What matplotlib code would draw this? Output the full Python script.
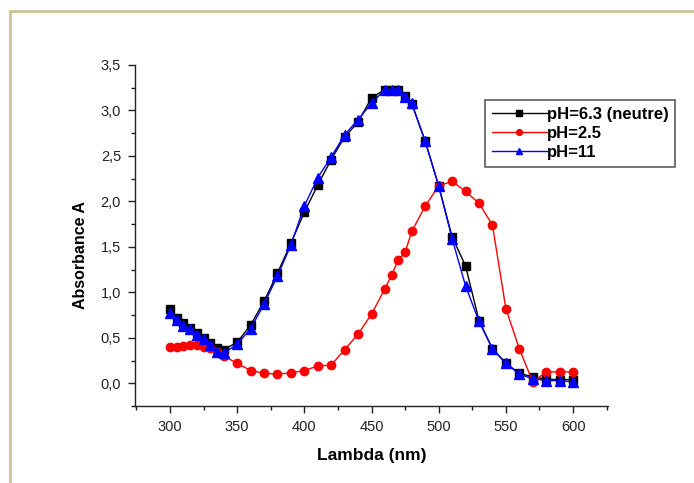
import matplotlib
matplotlib.use("Agg")
import matplotlib.pyplot as plt
from matplotlib.ticker import MultipleLocator, FuncFormatter
from matplotlib.patches import Rectangle

plt.rcParams['font.family'] = ['Liberation Sans', 'DejaVu Sans']

# Wavelengths (nm)
lam_neutral = [300, 305, 310, 315, 320, 325, 330, 335, 340, 350, 360, 370, 380, 390,
               400, 410, 420, 430, 440, 450, 460, 465, 470, 475, 480, 490, 500, 510,
               520, 530, 540, 550, 560, 570, 580, 590, 600]
abs_neutral = [0.82, 0.72, 0.66, 0.61, 0.55, 0.50, 0.44, 0.39, 0.37, 0.45, 0.64, 0.90,
               1.21, 1.54, 1.88, 2.18, 2.46, 2.71, 2.87, 3.14, 3.23, 3.23, 3.23, 3.16,
               3.07, 2.66, 2.17, 1.61, 1.29, 0.69, 0.38, 0.22, 0.11, 0.07, 0.045, 0.04, 0.04]

lam_acid = [300, 305, 310, 315, 320, 325, 330, 335, 340, 350, 360, 370, 380, 390, 400,
            410, 420, 430, 440, 450, 460, 465, 470, 475, 480, 490, 500, 510, 520, 530,
            540, 550, 560, 570, 580, 590, 600]
abs_acid = [0.40, 0.40, 0.41, 0.42, 0.42, 0.40, 0.39, 0.34, 0.30, 0.22, 0.14, 0.11,
            0.10, 0.115, 0.14, 0.19, 0.20, 0.37, 0.54, 0.76, 1.04, 1.19, 1.36, 1.44,
            1.67, 1.95, 2.17, 2.22, 2.11, 1.98, 1.74, 0.82, 0.38, 0.015, 0.125, 0.125, 0.125]

lam_basic = lam_neutral
abs_basic = [0.77, 0.70, 0.63, 0.60, 0.53, 0.49, 0.42, 0.345, 0.33, 0.43, 0.60, 0.87,
             1.18, 1.52, 1.95, 2.26, 2.49, 2.73, 2.90, 3.08, 3.23, 3.23, 3.23, 3.15,
             3.08, 2.66, 2.17, 1.59, 1.07, 0.68, 0.38, 0.22, 0.10, 0.05, 0.03, 0.03, 0.015]

labels = ["pH=6.3 (neutre)", "pH=2.5", "pH=11"]

fig = plt.figure(figsize=(6.94, 4.83), dpi=100)
fig.patch.set_facecolor('white')

# Tan page frame
fig.patches.append(Rectangle((10 / 694, -0.1), 1.2, 1 - 11 / 483 + 0.1,
                             transform=fig.transFigure, fill=False,
                             edgecolor='#cdc39b', linewidth=2.0, zorder=0))

ax = fig.add_axes([135 / 694, 77 / 483, 473 / 694, 341 / 483])

l1, = ax.plot(lam_neutral, abs_neutral, color='black', marker='s', markersize=5.5,
              linewidth=1.0, label=labels[0])
l2, = ax.plot(lam_acid, abs_acid, color='red', marker='o', markersize=6,
              linewidth=1.0, label=labels[1])
l3, = ax.plot(lam_basic, abs_basic, color='blue', marker='^', markersize=6.5,
              linewidth=1.0, label=labels[2])

ax.set_xlim(274, 626)
ax.set_ylim(-0.25, 3.5)
ax.xaxis.set_major_locator(MultipleLocator(50))
ax.xaxis.set_minor_locator(MultipleLocator(25))
ax.yaxis.set_major_locator(MultipleLocator(0.5))
ax.yaxis.set_minor_locator(MultipleLocator(0.25))
ax.yaxis.set_major_formatter(FuncFormatter(lambda v, p: f"{v:.1f}".replace('.', ',')))

for side in ('top', 'right'):
    ax.spines[side].set_visible(False)
for side in ('left', 'bottom'):
    ax.spines[side].set_linewidth(1.0)
    ax.spines[side].set_color('#222222')

ax.tick_params(which='major', direction='out', length=5, width=1.0, labelsize=10.5,
               colors='#222222', pad=5)
ax.tick_params(which='minor', direction='out', length=3, width=1.0, colors='#222222')

ax.set_xlabel("Lambda (nm)", fontsize=12.5, fontweight='bold')
ax.set_ylabel("Absorbance A", fontsize=11.5, fontweight='bold')
ax.xaxis.set_label_coords(0.5, -42 / 341)
ax.yaxis.set_label_coords(-47 / 473, 0.443)

leg = fig.legend(handles=[l1, l2, l3], loc='upper left',
                 bbox_to_anchor=(485 / 694, 1 - 100 / 483),
                 prop={'weight': 'bold', 'size': 12}, frameon=True, fancybox=False,
                 edgecolor='#333333', handlelength=3.3, handletextpad=0.0,
                 labelspacing=0.25, borderpad=0.4, borderaxespad=0.0,
                 markerscale=0.7)
leg.get_frame().set_linewidth(1.2)

fig.savefig("out.png", dpi=100, facecolor='white')
